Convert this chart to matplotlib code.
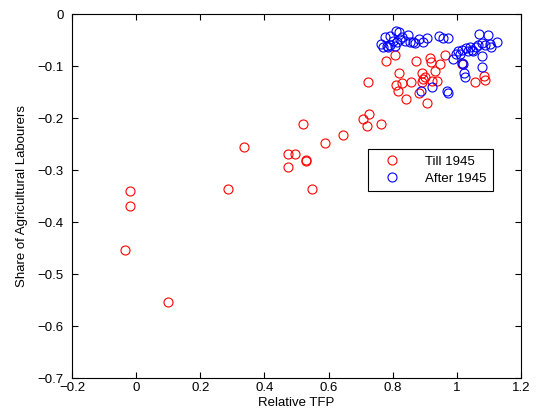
import numpy as np
import matplotlib.pyplot as plt

plt.rcParams['font.family'] = ['Liberation Sans', 'DejaVu Sans']

# Till 1945 (red)
till_x = [-0.034, -0.019, -0.019, 0.099, 0.286, 0.336, 0.474, 0.495, 0.474, 0.529,
          0.531, 0.549, 0.519, 0.589, 0.645, 0.708, 0.727, 0.720, 0.762, 0.724,
          0.779, 0.807, 0.874, 0.916, 0.918, 0.947, 0.963, 0.820, 0.810, 0.828,
          0.856, 0.817, 0.841, 0.890, 0.900, 0.931, 0.890, 0.894, 0.921, 0.937,
          0.883, 0.906, 1.015, 1.056, 1.084, 1.087]
till_y = [-0.454, -0.340, -0.369, -0.554, -0.337, -0.255, -0.270, -0.270, -0.294, -0.281,
          -0.283, -0.337, -0.212, -0.249, -0.233, -0.201, -0.192, -0.215, -0.212, -0.130,
          -0.090, -0.078, -0.090, -0.084, -0.092, -0.097, -0.078, -0.114, -0.137, -0.132,
          -0.130, -0.149, -0.164, -0.114, -0.121, -0.109, -0.130, -0.125, -0.128, -0.128,
          -0.151, -0.171, -0.096, -0.130, -0.119, -0.126]

# After 1945 (blue)
after_x = [0.762, 0.776, 0.781, 0.791, 0.802, 0.810, 0.820, 0.807, 0.786, 0.769,
           0.822, 0.838, 0.848, 0.854, 0.869, 0.883, 0.893, 0.906, 0.945, 0.957,
           0.973, 0.791, 0.828, 0.864, 0.812,
           1.069, 1.097, 1.126, 1.077, 1.087, 1.103, 1.108, 1.004, 1.015, 1.030,
           1.040, 1.046, 1.051, 0.997, 1.009, 0.988, 1.077, 1.015, 1.020, 1.077,
           1.022, 1.025, 1.061, 1.066, 1.035, 0.888, 0.921, 0.973, 0.970]
after_y = [-0.058, -0.045, -0.061, -0.042, -0.051, -0.032, -0.035, -0.061, -0.064, -0.064,
           -0.048, -0.051, -0.040, -0.054, -0.056, -0.048, -0.054, -0.046, -0.042, -0.046,
           -0.046, -0.060, -0.044, -0.053, -0.053,
           -0.039, -0.040, -0.053, -0.056, -0.060, -0.058, -0.063, -0.072, -0.069, -0.066,
           -0.063, -0.069, -0.072, -0.076, -0.076, -0.087, -0.081, -0.095, -0.096, -0.101,
           -0.114, -0.122, -0.063, -0.060, -0.072, -0.149, -0.141, -0.151, -0.149]

xticks = [-0.2, 0, 0.2, 0.4, 0.6, 0.8, 1, 1.2]
xtick_labels = ['\u22120.2', '0', '0.2', '0.4', '0.6', '0.8', '1', '1.2']
yticks = [-0.7, -0.6, -0.5, -0.4, -0.3, -0.2, -0.1, 0]
ytick_labels = ['\u22120.7', '\u22120.6', '\u22120.5', '\u22120.4', '\u22120.3', '\u22120.2', '\u22120.1', '0']

fig = plt.figure(figsize=(5.39, 4.16), dpi=100)
ax = fig.add_axes([0.1336, 0.0913, 0.833, 0.875])

ax.plot(till_x, till_y, 'o', mfc='none', mec=(1, 0, 0), ms=6.5, mew=0.8, label='Till 1945')
ax.plot(after_x, after_y, 'o', mfc='none', mec=(0, 0, 1), ms=6.5, mew=0.8, label='After 1945')

ax.set_xlim(-0.2, 1.2)
ax.set_ylim(-0.7, 0)
ax.set_xticks(xticks)
ax.set_xticklabels(xtick_labels)
ax.set_yticks(yticks)
ax.set_yticklabels(ytick_labels)
ax.tick_params(direction='in', top=True, right=True, labelsize=9.5, length=4, width=0.8)
ax.tick_params(axis='y', pad=6)
ax.tick_params(axis='x', pad=3)
for s in ax.spines.values():
    s.set_linewidth(0.8)

ax.set_xlabel('Relative TFP', fontsize=9.5, labelpad=2)
ax.set_ylabel('Share of Agricultural Labourers', fontsize=9.5, labelpad=7)

leg = ax.legend(loc='upper left', bbox_to_anchor=(0.659, 0.629), borderaxespad=0,
                numpoints=1, fontsize=9.5, fancybox=False, edgecolor='black', framealpha=1,
                handletextpad=1.2, borderpad=0.5, labelspacing=0.35, handlelength=2.6)
leg.get_frame().set_linewidth(0.8)

fig.savefig('out.png', dpi=100)
